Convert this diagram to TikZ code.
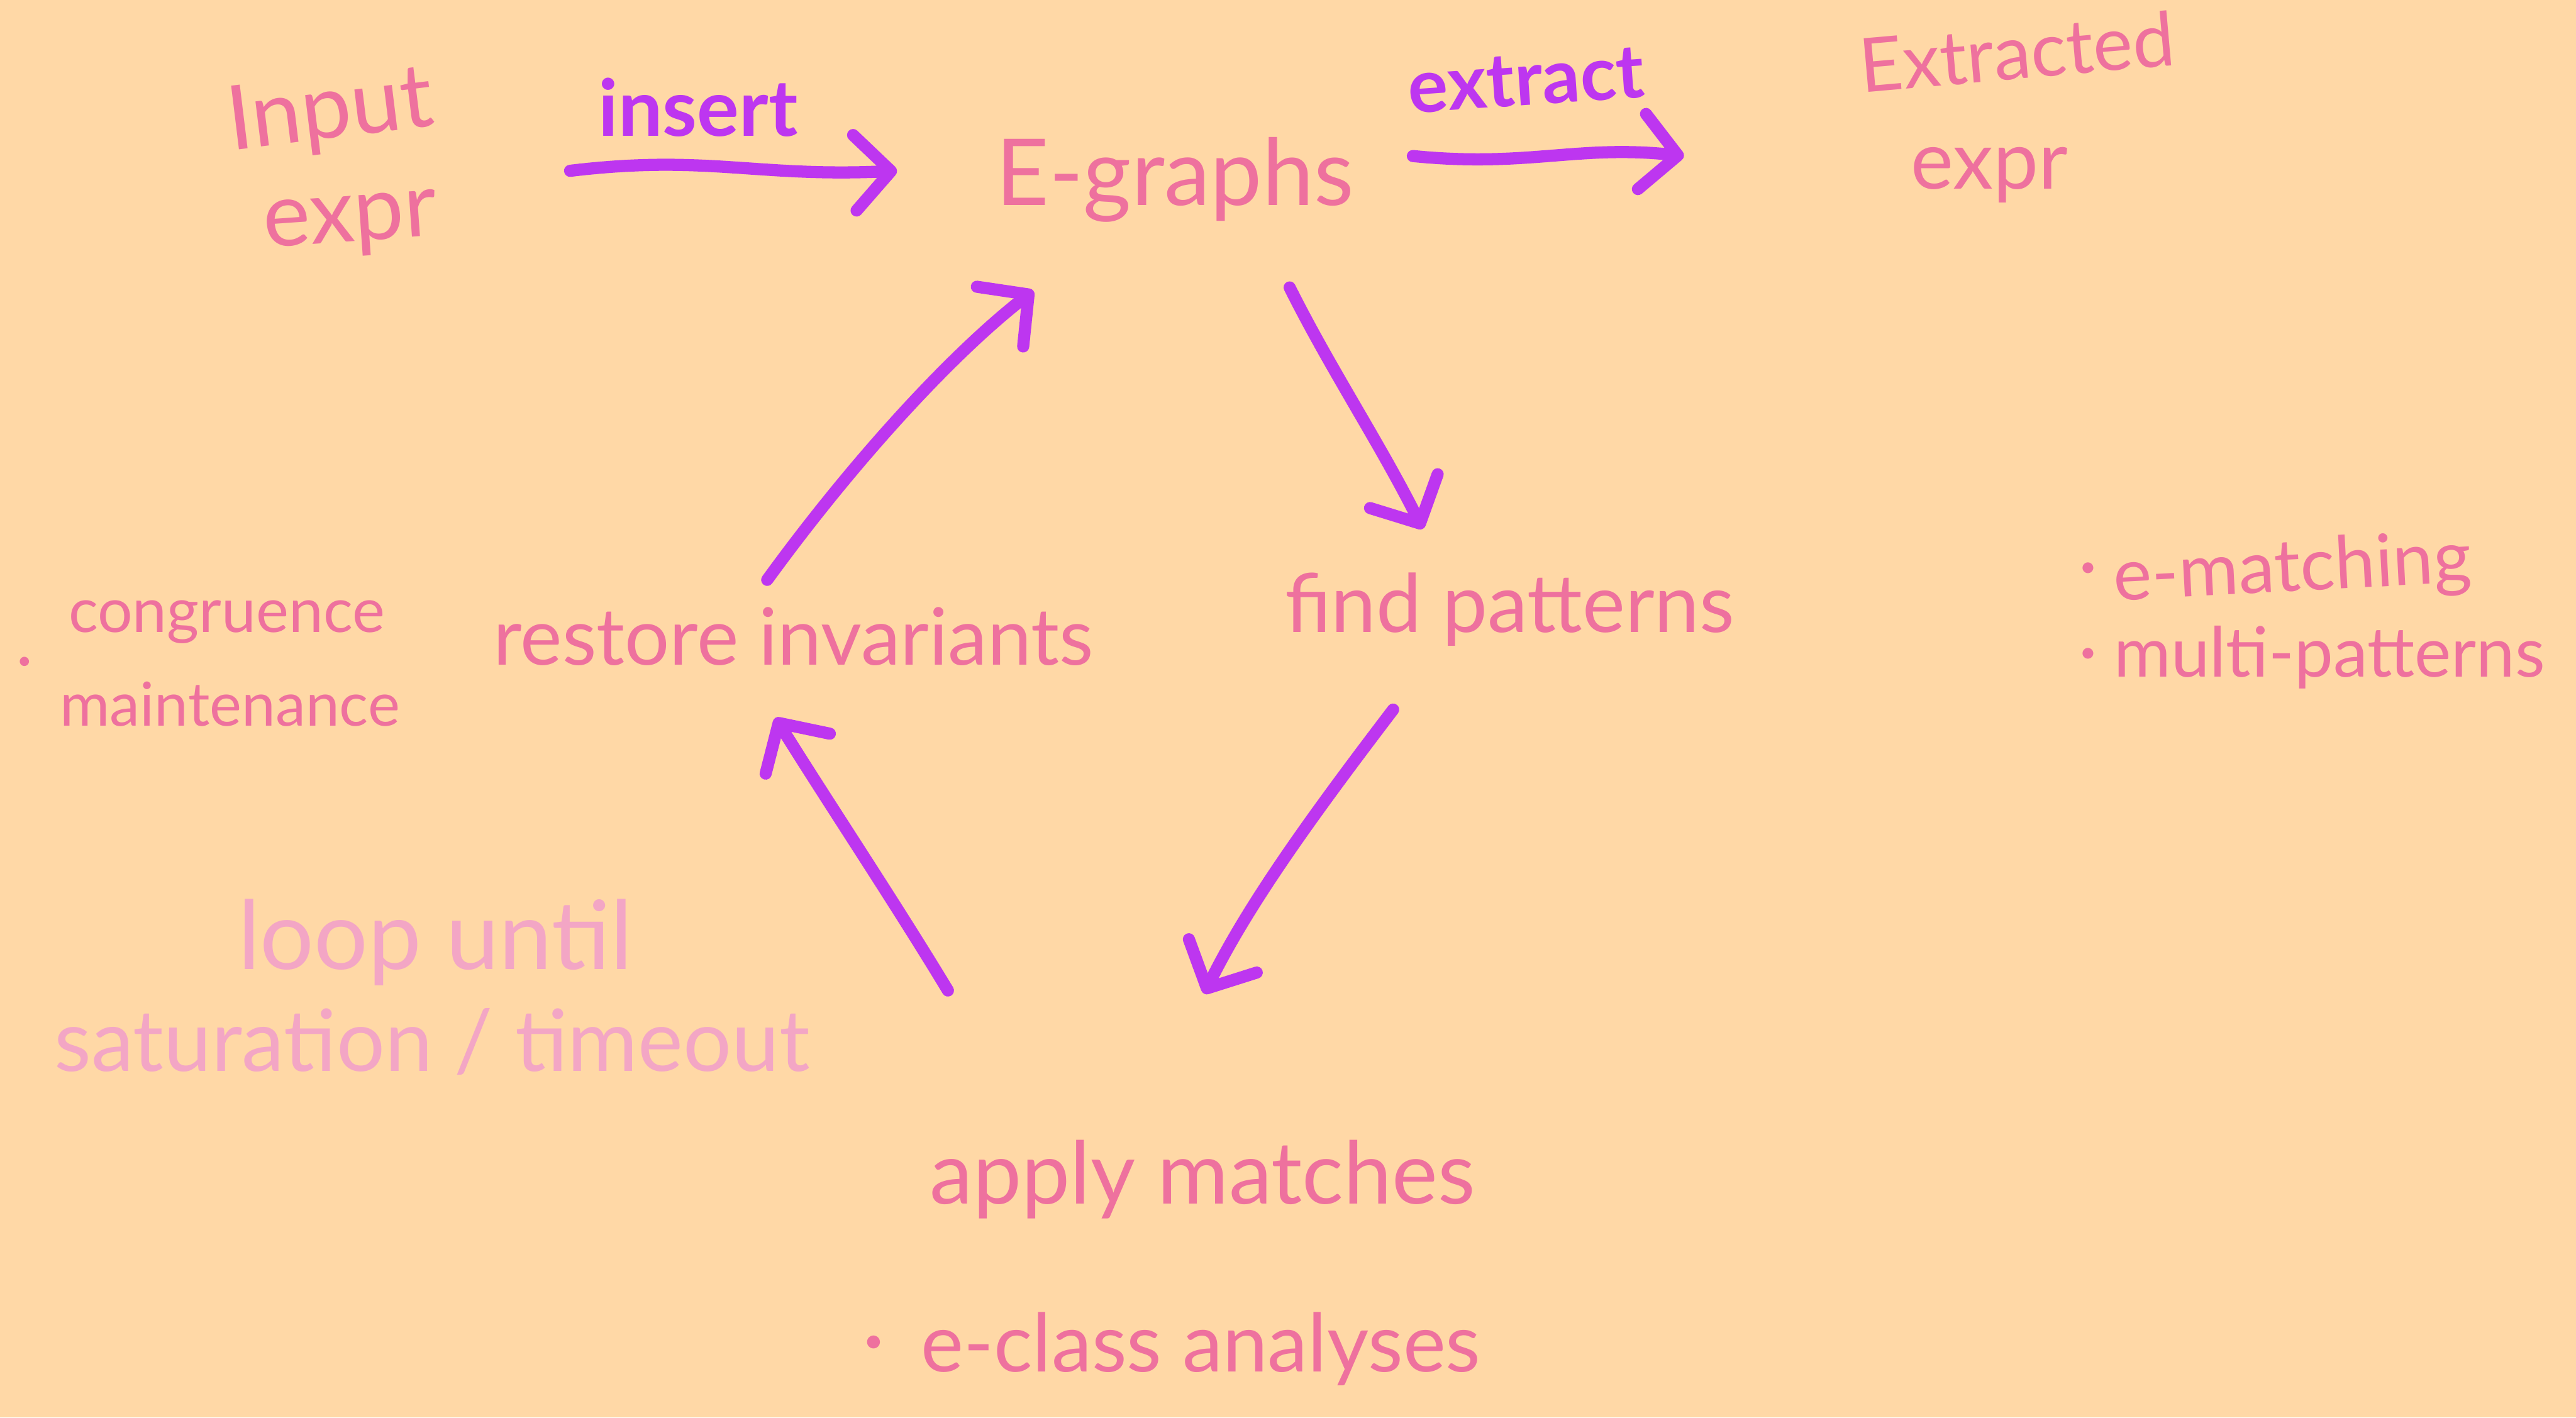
\documentclass[tikz,border=0pt]{standalone}
\usepackage{fontspec}
\setmainfont{Lato}
\usetikzlibrary{arrows.meta}
\definecolor{paper}{HTML}{FFD8A6}
\definecolor{ink}{HTML}{EE719E}
\definecolor{inkfaint}{HTML}{F3A6C5}
\definecolor{flow}{HTML}{BD36F0}
\begin{document}
\begin{tikzpicture}[x=0.1mm,y=-0.1mm,
  fs/.style={font=\fontsize{#1}{#1}\selectfont},
  txt/.style={text=ink, inner sep=0pt, anchor=base},
  faint/.style={text=inkfaint, inner sep=0pt, anchor=base},
  verb/.style={text=flow, inner sep=0pt, anchor=base},
  flowline/.style={draw=flow, line width=2.1pt, line cap=round, line join=round,
    -{Straight Barb[round,length=2.2mm,width=4.6mm]}}]
% sheet
\fill[paper] (0,0) rectangle (1568,863);
\useasboundingbox (0,0) rectangle (1568,863);

% top row: input, e-graph, extracted term
\node[txt, fs=15.5, rotate=7] (input) at (203,84) {Input};
\node[txt, fs=15.5, rotate=4] (inexpr) at (214,147) {expr};
\node[verb, font=\fontsize{13.6}{13.6}\selectfont\bfseries] (insert) at (425,83) {insert};
\node[txt, fs=16] (egraph) at (715,125) {E-graphs};
\node[verb, font=\fontsize{13}{13}\selectfont\bfseries, rotate=4] (extract) at (930,64) {extract};
\node[txt, fs=13, rotate=5] (extracted) at (1229,48) {Extracted};
\node[txt, fs=14] (outexpr) at (1211,115) {expr};

% the saturation loop
\node[txt, fs=14] (find) at (919,385) {find patterns};
\node[txt, fs=13.7] (restore) at (483,405) {restore invariants};
\node[txt, fs=15] (apply) at (732,733) {apply matches};
\node[txt, fs=15] (ecdot) at (532,833) {·};
\node[txt, fs=14] (eclass) at (731,835) {e-class analyses};

% side notes
\node[txt, fs=10.7] (congr) at (138,385) {congruence};
\node[txt, fs=10.7] (cgdot) at (15,414) {·};
\node[txt, fs=10.5] (maint) at (140,442) {maintenance};
\node[faint, fs=16.5] (loop) at (265,590) {loop until};
\node[faint, fs=14.8] (satur) at (263,652) {saturation / timeout};
\node[txt, fs=12.5] (emdot) at (1271,359) {·};
\node[txt, fs=12.6, rotate=3] (ematch) at (1396,360) {e-matching};
\node[txt, fs=12.5] (mpdot) at (1271,411) {·};
\node[txt, fs=12] (multi) at (1418,412) {multi-patterns};

% connector end points
\coordinate (insA) at (347,104);
\coordinate (insB) at (546,104);
\coordinate (extA) at (860,95);
\coordinate (extB) at (1025,95);
\coordinate (egOut) at (785,175);
\coordinate (findIn) at (866,322);
\coordinate (findOut) at (848,432);
\coordinate (applyIn) at (733,605);
\coordinate (applyOut) at (577,603);
\coordinate (restIn) at (472,437);
\coordinate (restOut) at (467,353);
\coordinate (egIn) at (629,177);

% connectors
\draw[flowline] (insA) .. controls (430,94) and (460,108) .. (insB);
\draw[flowline] (extA) .. controls (930,102) and (960,88) .. (extB);
\draw[flowline] (egOut) .. controls (810,225) and (840,270) .. (findIn);
\draw[flowline] (findOut) .. controls (800,495) and (760,550) .. (applyIn);
\draw[flowline] (applyOut) .. controls (545,550) and (505,490) .. (restIn);
\draw[flowline] (restOut) .. controls (520,280) and (580,215) .. (egIn);
\end{tikzpicture}
\end{document}
